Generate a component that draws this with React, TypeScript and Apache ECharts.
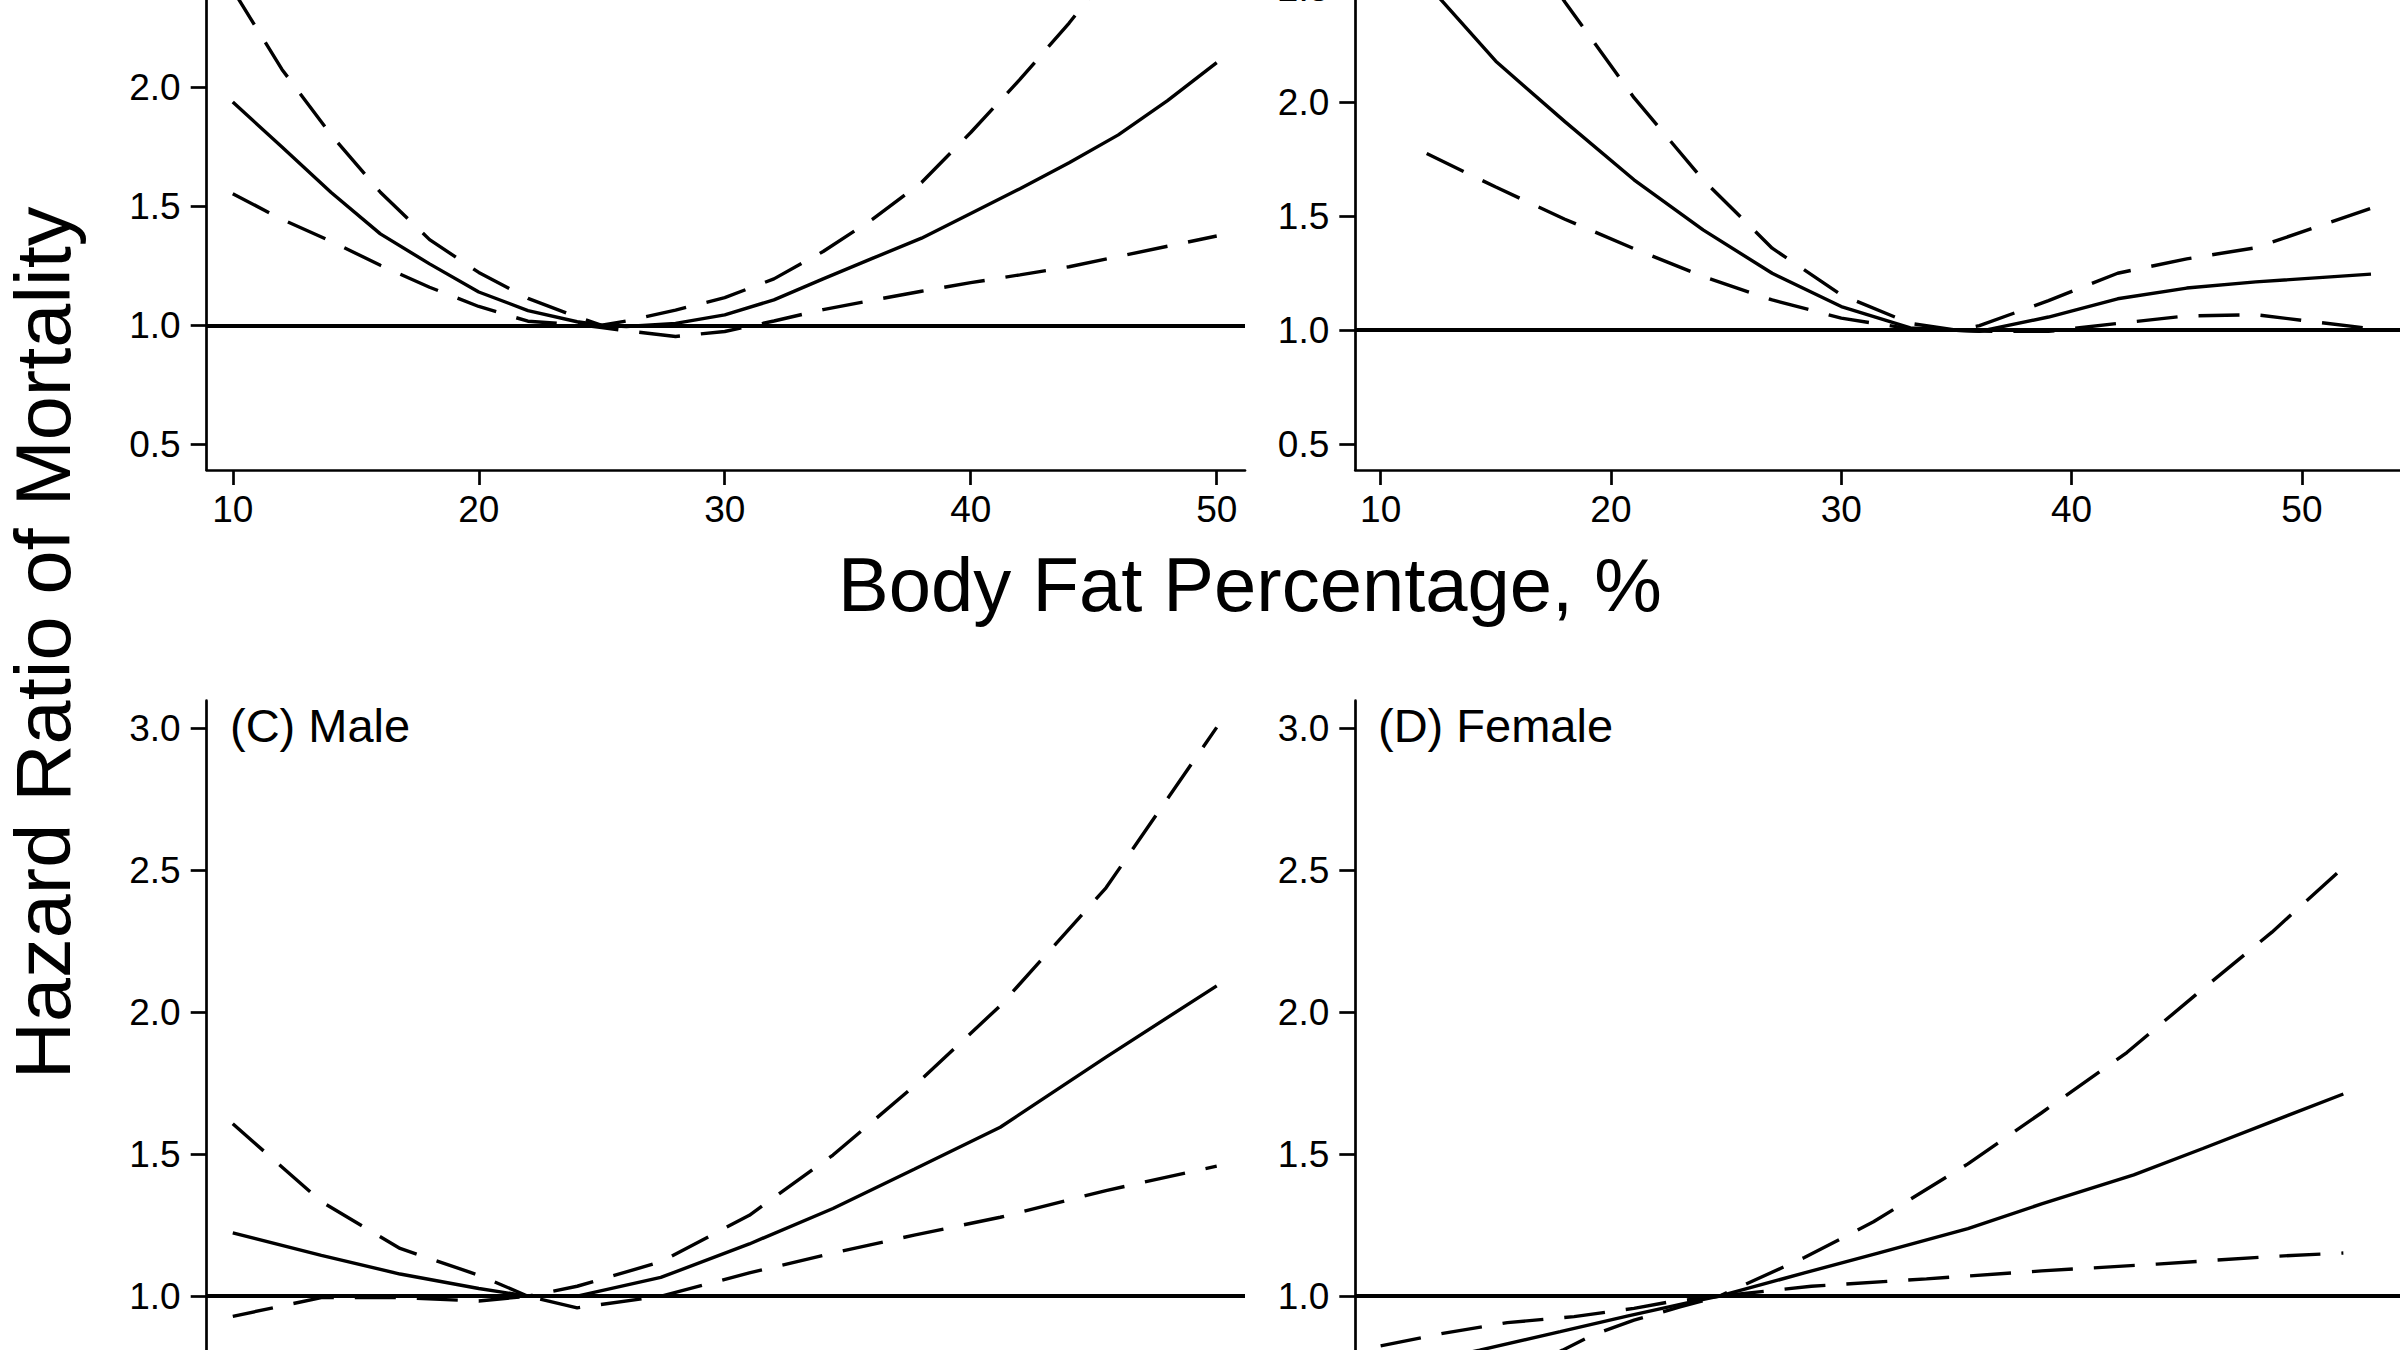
import React, { useEffect, useRef } from "react";
import * as echarts from "echarts";

const FONT = '"Liberation Sans", Arial, Helvetica, sans-serif';

// Tick values
const xTicks = [10, 20, 30, 40, 50];
const yTicksA = [0.5, 1.0, 1.5, 2.0];
const yTicksB = [0.5, 1.0, 1.5, 2.0, 2.5];
const yTicksCD = [1.0, 1.5, 2.0, 2.5, 3.0];

// Panel A
const aX = [10, 12, 14, 16, 18, 20, 22, 24, 25, 26, 28, 30, 32, 34, 36, 38, 40, 42, 44, 46, 48, 50];
const aHR = [1.938, 1.749, 1.558, 1.384, 1.258, 1.14, 1.062, 1.015, 1.0, 0.995, 1.008, 1.044, 1.107, 1.195, 1.281, 1.366, 1.47, 1.574, 1.683, 1.8, 1.944, 2.104];
const aHi = [2.41, 2.075, 1.8, 1.559, 1.36, 1.222, 1.113, 1.035, 1.0, 1.018, 1.064, 1.116, 1.195, 1.31, 1.445, 1.6, 1.81, 2.033, 2.27, 2.53, 2.82, 3.13];
const aLo = [1.553, 1.445, 1.353, 1.252, 1.16, 1.079, 1.017, 1.003, 0.99, 0.977, 0.953, 0.974, 1.018, 1.066, 1.105, 1.143, 1.179, 1.212, 1.246, 1.289, 1.332, 1.375];

// Panel B
const bX = [12, 15, 18, 21, 24, 27, 30, 33, 35, 36, 39, 42, 45, 48, 53];
const bHR = [2.52, 2.18, 1.915, 1.66, 1.44, 1.25, 1.104, 1.01, 1.0, 0.995, 1.058, 1.138, 1.185, 1.212, 1.246];
const bHi = [3.4, 2.88, 2.44, 2.02, 1.66, 1.36, 1.155, 1.03, 1.0, 1.02, 1.13, 1.25, 1.313, 1.362, 1.535];
const bLo = [1.775, 1.628, 1.487, 1.358, 1.236, 1.133, 1.053, 1.006, 1.0, 0.996, 0.995, 1.03, 1.063, 1.068, 1.007];

// Panel C (Male)
const cX = [10, 13.6, 16.8, 20, 22, 24, 27.4, 31, 34.4, 37.7, 41.2, 45.5, 50];
const cHR = [1.223, 1.144, 1.078, 1.027, 1.0, 1.0, 1.066, 1.184, 1.309, 1.447, 1.595, 1.842, 2.093];
const cHi = [1.607, 1.333, 1.168, 1.074, 1.0, 1.035, 1.121, 1.285, 1.497, 1.74, 2.023, 2.438, 3.003];
const cLo = [0.929, 0.995, 0.995, 0.983, 1.0, 0.959, 1.0, 1.082, 1.152, 1.215, 1.278, 1.372, 1.458];

// Panel D (Female)
const dHRX = [10, 14.3, 17.8, 20.7, 23.4, 24.7, 28.4, 31.6, 35.5, 38.7, 42.7, 45.7, 48.7, 51.8];
const dHR = [0.735, 0.81, 0.875, 0.93, 0.978, 1.0, 1.082, 1.152, 1.238, 1.325, 1.427, 1.52, 1.615, 1.712];
const dHiX = [10, 12.7, 15.5, 18.4, 21, 22.4, 24.7, 28.4, 31.4, 35.5, 38.7, 42.4, 45.4, 48.7, 51.8];
const dHi = [0.825, 0.869, 0.907, 0.928, 0.957, 0.978, 1.0, 1.136, 1.262, 1.466, 1.646, 1.858, 2.062, 2.282, 2.51];
const dLoX = [10, 14, 17.9, 19.2, 21, 23, 24.7, 28.7, 33.7, 38.7, 43.7, 48.7, 51.8];
const dLo = [0.5, 0.655, 0.81, 0.863, 0.916, 0.962, 1.0, 1.035, 1.061, 1.089, 1.113, 1.14, 1.152];

const panelLabels = ["(C) Male", "(D) Female"];
const xTitle = "Body Fat Percentage, %";
const yTitle = "Hazard Ratio of Mortality";

const zip = (xs: number[], ys: number[]) => xs.map((x, i) => [x, ys[i]]);

function lineSeries(idx: number, xs: number[], ys: number[], dashed: boolean, withRef: boolean) {
  const s: any = {
    type: "line",
    xAxisIndex: idx,
    yAxisIndex: idx,
    data: zip(xs, ys),
    symbol: "none",
    smooth: false,
    silent: true,
    lineStyle: {
      color: "#000",
      width: 3.4,
      type: dashed ? [41, 21] : "solid",
      cap: "butt",
    },
  };
  if (withRef) {
    s.markLine = {
      silent: true,
      symbol: ["none", "none"],
      label: { show: false },
      lineStyle: { color: "#000", width: 4, type: "solid" },
      data: [{ yAxis: 1 }],
    };
  }
  return s;
}

function xAxisCfg(idx: number, min: number, max: number, showLabel: boolean) {
  return {
    gridIndex: idx,
    type: "value",
    min,
    max,
    axisLine: { show: true, onZero: false, lineStyle: { color: "#000", width: 2.7 } },
    axisTick: { show: true, inside: false, length: 15, customValues: xTicks, lineStyle: { color: "#000", width: 2.7 } },
    axisLabel: {
      show: showLabel,
      customValues: xTicks,
      fontSize: 37,
      color: "#000",
      fontFamily: FONT,
      margin: 21,
    },
    splitLine: { show: false },
  };
}

function yAxisCfg(idx: number, min: number, max: number, ticks: number[]) {
  return {
    gridIndex: idx,
    type: "value",
    min,
    max,
    axisLine: { show: true, onZero: false, lineStyle: { color: "#000", width: 2.7 } },
    axisTick: { show: true, inside: false, length: 16, customValues: ticks, lineStyle: { color: "#000", width: 2.7 } },
    axisLabel: {
      show: true,
      customValues: ticks,
      fontSize: 37,
      color: "#000",
      fontFamily: FONT,
      margin: 26,
      formatter: (v: number) => v.toFixed(1),
    },
    splitLine: { show: false },
  };
}

export default function App() {
  const ref = useRef<HTMLDivElement>(null);
  useEffect(() => {
    if (!ref.current) return;
    const chart = echarts.init(ref.current, null, { renderer: "svg" });
    const gridBase = { containLabel: false, outerBoundsMode: "none", show: false };
    const option: any = {
      animation: false,
      backgroundColor: "#fff",
      grid: [
        { ...gridBase, left: 206.7, top: -299, width: 1038.3, height: 769 },
        { ...gridBase, left: 1355.3, top: -299, width: 1044.7, height: 769 },
        { ...gridBase, left: 206.7, top: 700.7, width: 1038.3, height: 769 },
        { ...gridBase, left: 1355.3, top: 700.7, width: 1044.7, height: 769 },
      ],
      xAxis: [
        xAxisCfg(0, 8.94, 51.15, true),
        xAxisCfg(1, 8.9, 54.26, true),
        xAxisCfg(2, 8.94, 51.15, false),
        xAxisCfg(3, 8.9, 54.26, false),
      ],
      yAxis: [
        yAxisCfg(0, 0.392, 3.623, yTicksA),
        yAxisCfg(1, 0.387, 3.76, yTicksB),
        yAxisCfg(2, 0.389, 3.097, yTicksCD),
        yAxisCfg(3, 0.389, 3.097, yTicksCD),
      ],
      series: [
        lineSeries(0, aX, aHR, false, true),
        lineSeries(0, aX, aHi, true, false),
        lineSeries(0, aX, aLo, true, false),
        lineSeries(1, bX, bHR, false, true),
        lineSeries(1, bX, bHi, true, false),
        lineSeries(1, bX, bLo, true, false),
        lineSeries(2, cX, cHR, false, true),
        lineSeries(2, cX, cHi, true, false),
        lineSeries(2, cX, cLo, true, false),
        lineSeries(3, dHRX, dHR, false, true),
        lineSeries(3, dHiX, dHi, true, false),
        lineSeries(3, dLoX, dLo, true, false),
      ],
      graphic: [
        {
          type: "text",
          x: 1250,
          y: 584,
          silent: true,
          style: {
            text: xTitle,
            fontSize: 76,
            fontFamily: FONT,
            fill: "#000",
            align: "center",
            verticalAlign: "middle",
            textAlign: "center",
            textVerticalAlign: "middle",
          },
        },
        {
          type: "text",
          x: 43,
          y: 643,
          rotation: Math.PI / 2,
          scaleX: 1.03,
          silent: true,
          style: {
            text: yTitle,
            fontSize: 77,
            fontFamily: FONT,
            fill: "#000",
            align: "center",
            verticalAlign: "middle",
            textAlign: "center",
            textVerticalAlign: "middle",
          },
        },
        {
          type: "text",
          x: 230,
          y: 725,
          silent: true,
          style: {
            text: panelLabels[0],
            fontSize: 47,
            fontFamily: FONT,
            fill: "#000",
            align: "left",
            verticalAlign: "middle",
            textAlign: "left",
            textVerticalAlign: "middle",
          },
        },
        {
          type: "text",
          x: 1378,
          y: 725,
          silent: true,
          style: {
            text: panelLabels[1],
            fontSize: 47,
            fontFamily: FONT,
            fill: "#000",
            align: "left",
            verticalAlign: "middle",
            textAlign: "left",
            textVerticalAlign: "middle",
          },
        },
      ],
    };
    chart.setOption(option);
    return () => chart.dispose();
  }, []);
  return (
    <div
      ref={ref}
      style={{ position: "absolute", left: 0, top: 0, width: 2400, height: 1350, background: "#fff", overflow: "hidden" }}
    />
  );
}
